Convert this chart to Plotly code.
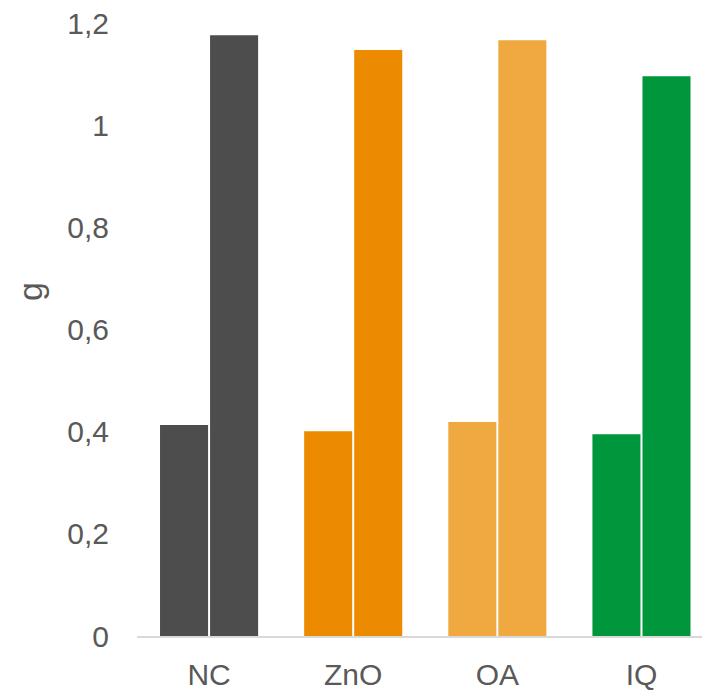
import plotly.graph_objects as go

categories = ["NC", "ZnO", "OA", "IQ"]
series_a = [0.413, 0.401, 0.419, 0.395]
series_b = [1.176, 1.147, 1.166, 1.096]
colors = ["#4d4d4d", "#ed8b00", "#f0a941", "#00963c"]
y_ticks = [0, 0.2, 0.4, 0.6, 0.8, 1.0, 1.2]
y_tick_text = ["0", "0,2", "0,4", "0,6", "0,8", "1", "1,2"]

font_family = "Liberation Sans, Arial, sans-serif"
text_color = "#595959"

fig = go.Figure()
fig.add_trace(go.Bar(x=categories, y=series_a, marker=dict(color=colors, line=dict(width=0)),
                     showlegend=False))
fig.add_trace(go.Bar(x=categories, y=series_b, marker=dict(color=colors, line=dict(width=0)),
                     showlegend=False))

fig.update_layout(
    width=702, height=691,
    margin=dict(l=137, r=0, t=23, b=55),
    paper_bgcolor="white", plot_bgcolor="white",
    barmode="group", bargap=0.3056, bargroupgap=0.04,
    font=dict(family=font_family, size=30, color=text_color),
    xaxis=dict(
        type="category",
        range=[-0.5, 3.42],
        showline=True, linecolor="#d9d9d9", linewidth=2,
        showgrid=False, zeroline=False, ticks="",
        ticklabelstandoff=11,
        tickfont=dict(size=30, color=text_color),
    ),
    yaxis=dict(
        range=[0, 1.2],
        tickvals=y_ticks, ticktext=y_tick_text,
        showgrid=False, zeroline=False, showline=False, ticks="",
        ticklabelstandoff=27,
        tickfont=dict(size=30, color=text_color),
    ),
    annotations=[dict(
        text="g", textangle=-90, showarrow=False,
        xref="paper", yref="paper",
        x=(30 - 137) / 565, y=(636 - 292) / 613,
        xanchor="center", yanchor="middle",
        font=dict(size=34, color=text_color, family=font_family),
    )],
)

fig.write_html("out.html")
